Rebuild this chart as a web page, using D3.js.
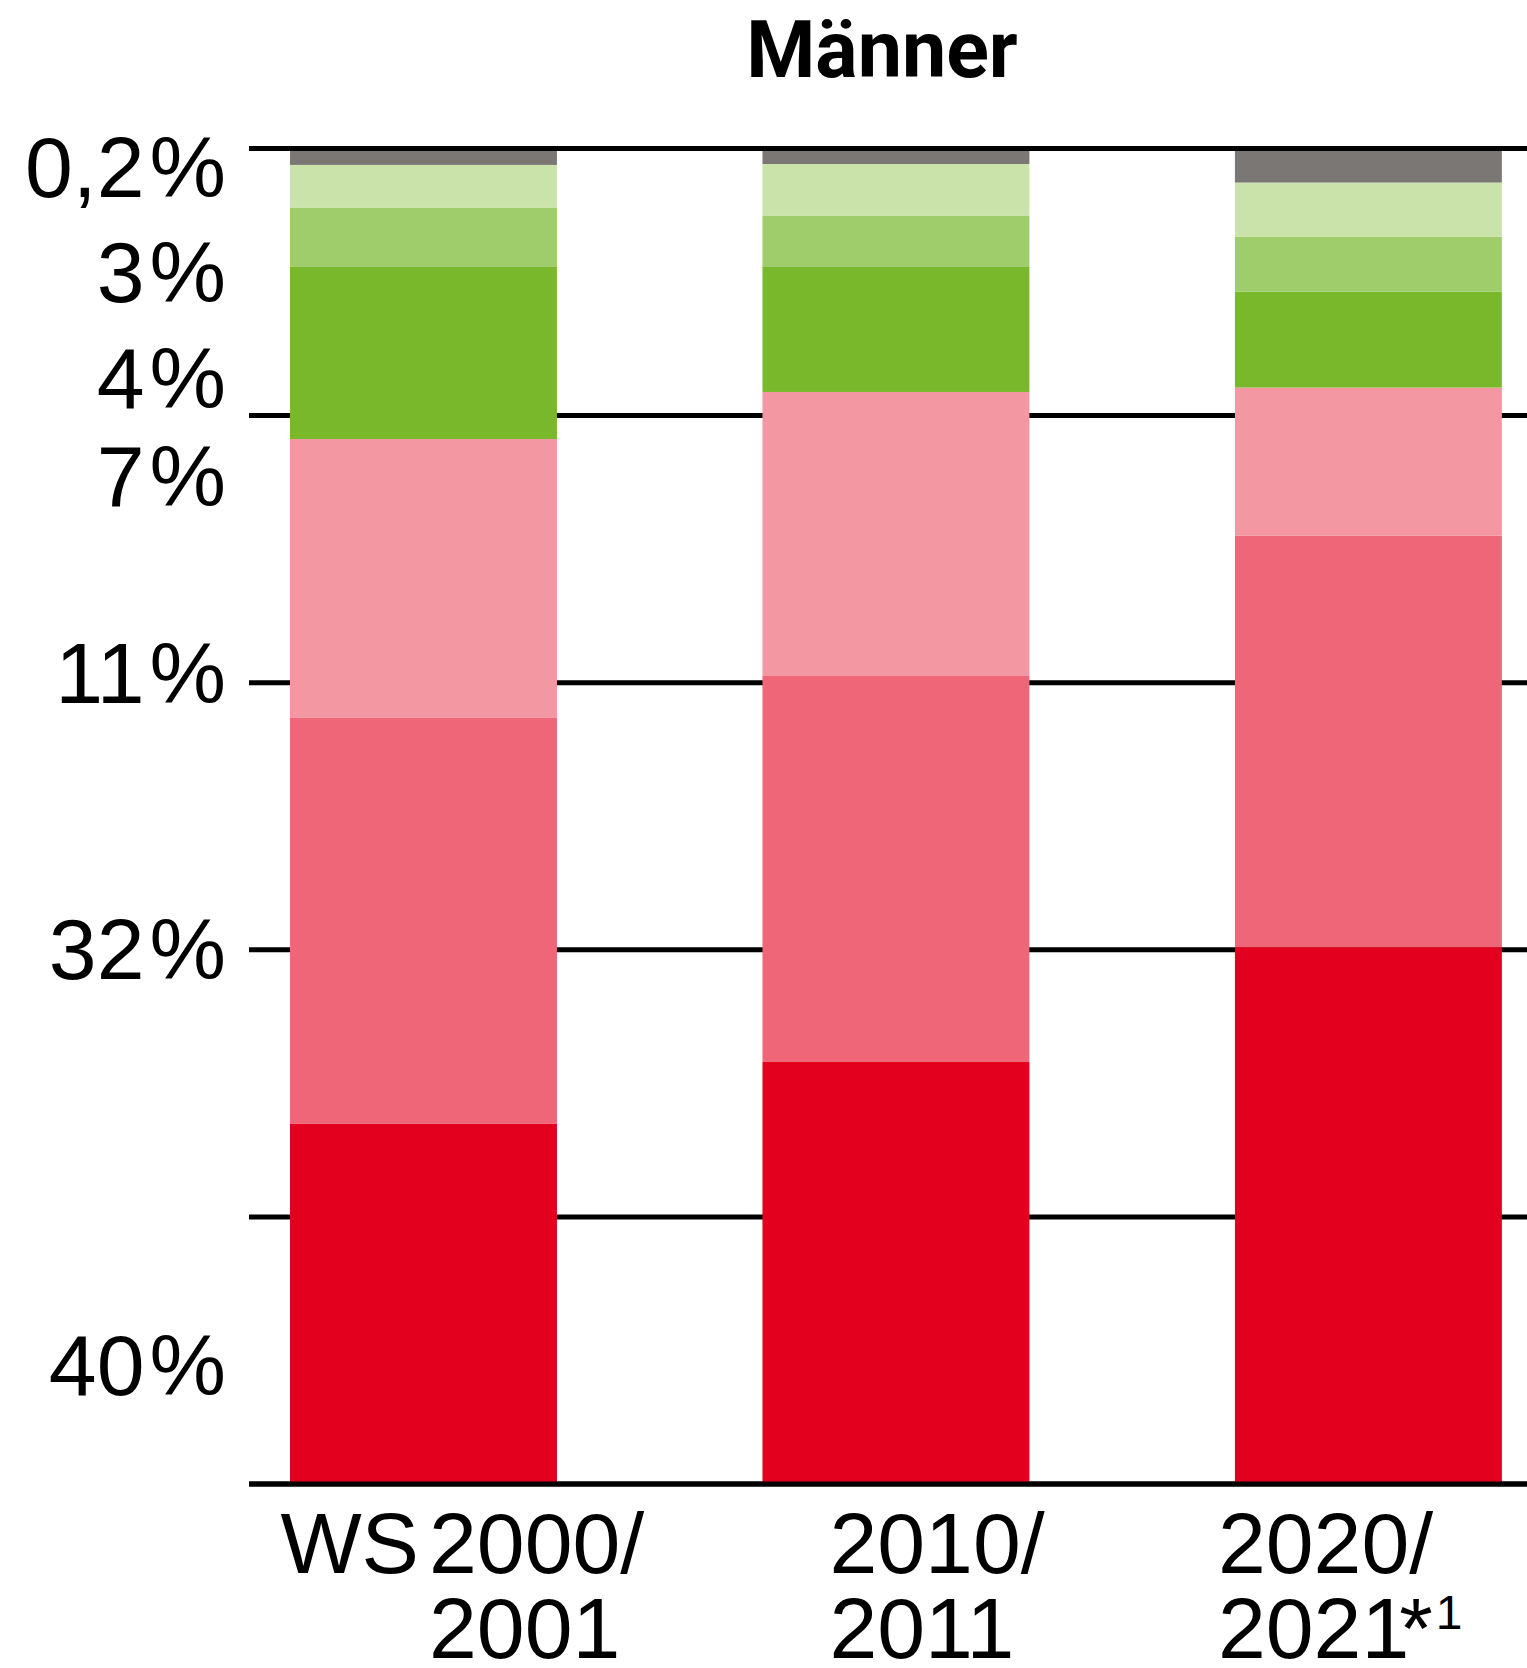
<!DOCTYPE html>
<html lang="de">
<head>
  <meta charset="UTF-8" />
  <title>Männer</title>
  <style>
    body { margin: 0; padding: 0; background: #fff; }
    svg { display: block; }
    .title { font-family: Roboto, "Liberation Sans", sans-serif; font-weight: 700; font-size: 79px; text-anchor: middle; }
    .lbl { font-family: "Liberation Sans", Arial, sans-serif; font-size: 86px; fill: #000; }
  </style>
</head>
<body>
  <svg id="chart" width="1527" height="1668"></svg>
  <script src="https://d3js.org/d3.v7.min.js"></script>
  <script>
    // Anteile je Semester, von unten (rot) nach oben (grau), in %
    const semester = ["WS 2000/2001", "2010/2011", "2020/2021"];
    const rot         = [26.96, 31.6, 40.2];
    const rosa        = [30.4, 28.9, 30.8];
    const hellrosa    = [20.89, 21.27, 11.1];
    const gruen       = [12.88, 9.36, 7.17];
    const mittelgruen = [4.42, 3.82, 4.14];
    const hellgruen   = [3.22, 3.89, 4.04];
    const grau        = [1.24, 1.16, 2.55];

    const keys = ["rot", "rosa", "hellrosa", "gruen", "mittelgruen", "hellgruen", "grau"];
    const colors = ["#e2001e", "#ee6677", "#f398a3", "#78b82a", "#a0cd6c", "#cae3aa", "#7a7775"];

    // Beschriftungen links, am Wert (in %) ihrer Grundlinie
    const wertLabels = ["0,2", "3", "4", "7", "11", "32", "40"];
    const wertLabelPos = [96.4, 88.5, 80.6, 73.2, 58.5, 37.8, 6.7];

    // Achsenbeschriftungen (zwei Zeilen)
    const zeile1 = ["2000/", "2010/", "2020/"];
    const zeile2 = ["2001", "2011", "2021"];

    const gridTicks = [0, 20, 40, 60, 80, 100];

    const rows = semester.map((s, i) => ({
      semester: s,
      rot: rot[i], rosa: rosa[i], hellrosa: hellrosa[i], gruen: gruen[i],
      mittelgruen: mittelgruen[i], hellgruen: hellgruen[i], grau: grau[i]
    }));

    const svg = d3.select("#chart");

    const x = d3.scaleBand()
      .domain(semester)
      .range([249, 1527])
      .paddingInner(0.435)
      .paddingOuter(0.07)
      .align(0.62);

    const y = d3.scaleLinear().domain([0, 100]).range([1484, 148.5]);

    const color = d3.scaleOrdinal().domain(keys).range(colors);

    // Gitterlinien
    svg.append("g").selectAll("line")
      .data(gridTicks)
      .enter().append("line")
      .attr("x1", 249).attr("x2", 1527)
      .attr("y1", d => y(d)).attr("y2", d => y(d))
      .attr("stroke", "#000").attr("stroke-width", 5);

    const series = d3.stack().keys(keys)(rows);

    svg.append("g").selectAll("g")
      .data(series)
      .enter().append("g")
      .attr("fill", d => color(d.key))
      .selectAll("rect")
      .data(d => d)
      .enter().append("rect")
      .attr("x", d => x(d.data.semester))
      .attr("width", x.bandwidth())
      .attr("y", d => y(d[1]))
      .attr("height", d => y(d[0]) - y(d[1]));

    // Grundlinie und obere Linie über den Balken
    svg.append("g").selectAll("line")
      .data([0, 100])
      .enter().append("line")
      .attr("x1", 249).attr("x2", 1527)
      .attr("y1", d => y(d)).attr("y2", d => y(d))
      .attr("stroke", "#000").attr("stroke-width", 5);

    svg.append("text")
      .attr("class", "title")
      .attr("x", 882).attr("y", 77)
      .text("Männer");

    const wl = svg.append("g").selectAll("text")
      .data(wertLabels)
      .enter().append("text")
      .attr("class", "lbl")
      .attr("text-anchor", "end")
      .attr("x", 226)
      .attr("y", (d, i) => y(wertLabelPos[i]));
    wl.append("tspan").text(d => d);
    wl.append("tspan").attr("dx", 5).text("%");

    // x-Beschriftung: linker Rand der Jahreszahlen je Balken
    const labelOffset = [139, 67, -17];
    const ax = svg.append("g");
    semester.forEach((s, i) => {
      const lx = x(s) + labelOffset[i];
      ax.append("text").attr("class", "lbl").attr("x", lx).attr("y", 1573).text(zeile1[i]);
      const t2 = ax.append("text").attr("class", "lbl").attr("x", lx).attr("y", 1658);
      t2.append("tspan").text(zeile2[i]);
      if (i === 2) {
        t2.append("tspan").attr("dx", -10).text("*");
        t2.append("tspan").attr("font-size", 48).attr("dx", 3).attr("dy", -29).text("1");
      }
      if (i === 0) {
        ax.append("text").attr("class", "lbl").attr("text-anchor", "end")
          .attr("x", lx - 10).attr("y", 1573).text("WS");
      }
    });
  </script>
</body>
</html>
